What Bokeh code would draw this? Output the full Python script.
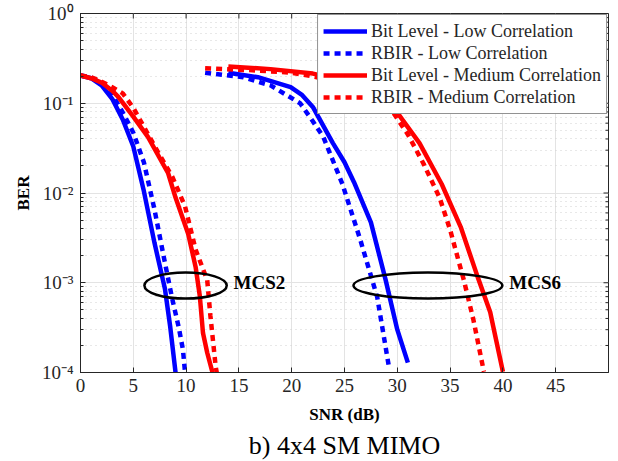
import math
from bokeh.plotting import figure
from bokeh.models import Legend, LegendItem, Title, CustomJSTickFormatter, FixedTicker
from bokeh.core.properties import value
from bokeh.embed import file_html
from bokeh.resources import INLINE

# ---------------- data ----------------
x_ticks = [0, 5, 10, 15, 20, 25, 30, 35, 40, 45]
y_decades = [1e-4, 1e-3, 1e-2, 1e-1, 1.0]
y_minor = [m * d for d in y_decades[:-1] for m in range(2, 10)]

# MCS2
mcs2_bit_low_x = [0, 1, 2, 3, 4, 5, 6, 7, 8, 8.5, 9]
mcs2_bit_low_y = [0.204, 0.19, 0.158, 0.112, 0.066, 0.033, 0.0105, 0.0028, 8.5e-4, 3.2e-4, 1.0e-4]

mcs2_rbir_low_x = [0, 1, 2, 3, 4, 5, 6, 7, 8, 8.7, 9.3, 9.7, 9.9]
mcs2_rbir_low_y = [0.204, 0.195, 0.166, 0.126, 0.079, 0.047, 0.022, 0.0066, 0.00166, 6.5e-4, 3.2e-4, 1.8e-4, 1.0e-4]

mcs2_bit_med_x = [0, 1, 2, 3, 3.6, 5, 6.4, 8.3, 9.0, 10.2, 10.9, 11.3, 11.6, 12.0, 12.5]
mcs2_bit_med_y = [0.204, 0.19, 0.17, 0.138, 0.117, 0.071, 0.042, 0.0166, 0.0089, 0.0035, 0.0015, 7.1e-4, 2.75e-4, 1.66e-4, 1.0e-4]

mcs2_rbir_med_x = [0, 1, 2, 3, 4, 5, 7.1, 8.7, 9.9, 10.9, 12.0, 12.3, 12.8, 12.9]
mcs2_rbir_med_y = [0.204, 0.195, 0.174, 0.151, 0.129, 0.089, 0.032, 0.0151, 0.0071, 0.00234, 0.00107, 4.3e-4, 1.17e-4, 1.0e-4]

# MCS6
mcs6_bit_low_x = [14, 16.8, 19.9, 21, 22, 23.9, 25, 25.9, 27.5, 28.9, 30.0, 31.0]
mcs6_bit_low_y = [0.219, 0.195, 0.151, 0.123, 0.091, 0.036, 0.022, 0.0132, 0.0047, 0.00107, 3.0e-4, 1.29e-4]

mcs6_rbir_low_x = [11.8, 15.4, 18, 20.8, 22, 23, 24.8, 26.5, 28.1, 29.2]
mcs6_rbir_low_y = [0.219, 0.195, 0.158, 0.1, 0.063, 0.042, 0.0126, 0.003, 6.9e-4, 1.17e-4]

mcs6_bit_med_x = [14, 18, 22, 25, 27.5, 29.6, 32.1, 34.2, 36.0, 37.6, 38.8, 39.1, 40.0]
mcs6_bit_med_y = [0.257, 0.24, 0.214, 0.178, 0.132, 0.091, 0.036, 0.0126, 0.0042, 0.00117, 4.7e-4, 3.2e-4, 1.02e-4]

mcs6_rbir_med_x = [11.8, 16, 20, 22.4, 25, 27.5, 29.6, 31, 32.5, 34, 35, 36.3, 37.2, 38.2]
mcs6_rbir_med_y = [0.245, 0.234, 0.219, 0.195, 0.158, 0.117, 0.079, 0.045, 0.021, 0.0089, 0.0039, 0.00107, 3.9e-4, 1.02e-4]

series_names = ["Bit Level - Low Correlation", "RBIR - Low Correlation",
                "Bit Level - Medium Correlation", "RBIR - Medium Correlation"]

ellipse_x = [9.95, 32.9]
ellipse_y = [9.3e-4, 9.3e-4]
ellipse_w = [7.8, 14.1]
mcs_labels = ["MCS2", "MCS6"]
mcs_label_x = [14.5, 40.6]
mcs_label_y = [1e-3, 1e-3]
caption = "b) 4x4 SM MIMO"

X_MIN, X_MAX = 0, 50
Y_MIN, Y_MAX = 1e-4, 1.0

# ---------------- figure ----------------
SERIF = "Liberation Serif"
p = figure(width=618, height=461, x_range=(X_MIN, X_MAX), y_range=(Y_MIN, Y_MAX),
           y_axis_type="log", output_backend="svg", toolbar_location=None,
           min_border_left=80, min_border_right=10, min_border_top=13,
           min_border_bottom=88, background_fill_color="white",
           border_fill_color="white")
p.outline_line_color = "#262626"
p.outline_line_width = 1

# grids
p.xgrid.ticker = FixedTicker(ticks=x_ticks)
p.xgrid.grid_line_color = "#e3e3e3"
p.ygrid.grid_line_color = "#e3e3e3"
p.ygrid.minor_grid_line_color = "#d0d0d0"
p.ygrid.minor_grid_line_dash = "1 4"

tick_color = "#262626"
fmt = CustomJSTickFormatter(code="""
const e = Math.round(Math.log10(tick));
const m = {'-':'\\u207b','0':'\\u2070','1':'\\u00b9','2':'\\u00b2','3':'\\u00b3','4':'\\u2074'};
return '10' + String(e).split('').map(c => m[c]).join('');
""")

xa = p.xaxis[0]
xa.ticker = FixedTicker(ticks=x_ticks)
xa.axis_label = "SNR (dB)"
ya = p.yaxis[0]
ya.formatter = fmt
ya.axis_label = "BER"

for ax in (xa, ya):
    ax.axis_line_color = tick_color
    ax.major_tick_line_color = tick_color
    ax.minor_tick_line_color = tick_color
    ax.major_tick_in = 5
    ax.major_tick_out = 0
    ax.minor_tick_in = 3
    ax.minor_tick_out = 0
    ax.major_label_text_font = SERIF
    ax.major_label_text_font_size = "19px"
    ax.major_label_text_color = tick_color
    ax.axis_label_text_font = SERIF
    ax.axis_label_text_font_style = "bold"
    ax.axis_label_text_font_size = "17px"
    ax.axis_label_text_color = "black"
xa.major_label_standoff = 6
xa.axis_label_standoff = 10
ya.major_label_standoff = 7
ya.axis_label_standoff = 6

# ticks on the top and right edges (inward), as dash markers centred on the frame
p.scatter(x=x_ticks, y=[Y_MAX] * len(x_ticks), marker="dash", angle=math.pi / 2,
          size=10, line_color=tick_color, line_width=1)
p.scatter(x=[X_MAX] * len(y_decades), y=y_decades, marker="dash",
          size=10, line_color=tick_color, line_width=1)
p.scatter(x=[X_MAX] * len(y_minor), y=y_minor, marker="dash",
          size=6, line_color=tick_color, line_width=1)

# lines
BLUE = "#0000ff"
RED = "#ff0000"
LW = 4.5
DASH = "6 5"
r1 = p.line(mcs2_bit_low_x, mcs2_bit_low_y, color=BLUE, line_width=LW)
p.line(mcs6_bit_low_x, mcs6_bit_low_y, color=BLUE, line_width=LW)
r2 = p.line(mcs2_rbir_low_x, mcs2_rbir_low_y, color=BLUE, line_width=LW, line_dash=DASH)
p.line(mcs6_rbir_low_x, mcs6_rbir_low_y, color=BLUE, line_width=LW, line_dash=DASH)
r3 = p.line(mcs2_bit_med_x, mcs2_bit_med_y, color=RED, line_width=LW)
p.line(mcs6_bit_med_x, mcs6_bit_med_y, color=RED, line_width=LW)
r4 = p.line(mcs2_rbir_med_x, mcs2_rbir_med_y, color=RED, line_width=LW, line_dash=DASH)
p.line(mcs6_rbir_med_x, mcs6_rbir_med_y, color=RED, line_width=LW, line_dash=DASH)

# ellipses and labels
p.ellipse(x=ellipse_x, y=ellipse_y, width=ellipse_w, height=26, height_units="screen",
          fill_color=None, line_color="black", line_width=2.5)
p.text(x=mcs_label_x, y=mcs_label_y, text=mcs_labels, text_baseline="middle",
       text_align="left", text_font=value(SERIF), text_font_style="bold",
       text_font_size="19px", text_color="black")

legend = Legend(items=[LegendItem(label=n, renderers=[r]) for n, r in
                       zip(series_names, [r1, r2, r3, r4])],
                location="top_right", margin=1, padding=5, spacing=0,
                glyph_width=44, glyph_height=22, label_height=22, label_standoff=4,
                border_line_color="#262626", border_line_width=1,
                background_fill_color="white", background_fill_alpha=1,
                label_text_font=SERIF, label_text_font_size="18px",
                label_text_color="#262626")
p.add_layout(legend)

p.add_layout(Title(text=caption, align="center", standoff=4,
                   text_font=SERIF, text_font_size="26px", text_font_style="normal",
                   text_color="black"), "below")

open("out.html", "w").write(file_html(p, INLINE))
